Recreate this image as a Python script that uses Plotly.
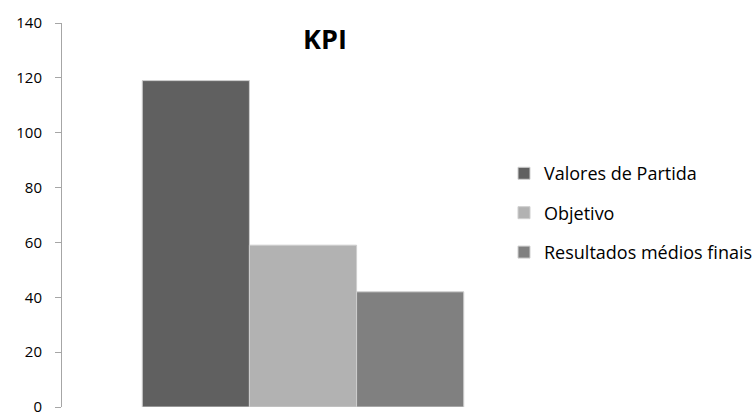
import plotly.graph_objects as go

# KPI comparison: starting values, target, and final average results
category = ["KPI"]
series_names = ["Valores de Partida", "Objetivo", "Resultados médios finais"]
series_values = [119, 59, 42]
series_colors = ["#606060", "#b2b2b2", "#808080"]
y_ticks = [0, 20, 40, 60, 80, 100, 120, 140]

W, H = 753, 412
fig = go.Figure()
for i, (name, val, col) in enumerate(zip(series_names, series_values, series_colors)):
    fig.add_trace(go.Bar(
        x=category, y=[val], name=name,
        marker=dict(color=col, line=dict(color="#cfcfcf", width=1)),
        legendgroup=f"g{i}",
    ))

fig.update_layout(
    width=W, height=H,
    margin=dict(l=62, r=209, t=23, b=5, autoexpand=False),
    paper_bgcolor="white", plot_bgcolor="white",
    barmode="group", bargap=0.333, bargroupgap=0,
    font=dict(family="Open Sans", color="#000000", size=15),
    title=dict(text="<b>KPI</b>", x=325 / W, xref="container", xanchor="center",
               y=1 - 40 / H, yref="container", yanchor="middle",
               font=dict(family="Open Sans", size=27, color="#000000")),
    showlegend=True,
    legend=dict(x=(504 - 62) / (W - 62 - 209), xanchor="left",
                y=0.505, yanchor="middle",
                traceorder="grouped", tracegroupgap=13,
                font=dict(family="Open Sans", size=18, color="#000000"),
                itemwidth=30, bgcolor="rgba(0,0,0,0)"),
    xaxis=dict(visible=False, range=[-0.5, 0.5], automargin=False),
    yaxis=dict(range=[0, 140], tickvals=y_ticks, ticktext=[str(v) for v in y_ticks],
               showgrid=False, zeroline=False, automargin=False,
               showline=True, linecolor="#a6a6a6", linewidth=1,
               ticks="outside", ticklen=6, tickcolor="#a6a6a6",
               ticklabelstandoff=10, ticklabeloverflow="allow",
               tickfont=dict(family="Open Sans", size=15, color="#000000")),
)

fig.write_html("out.html")
